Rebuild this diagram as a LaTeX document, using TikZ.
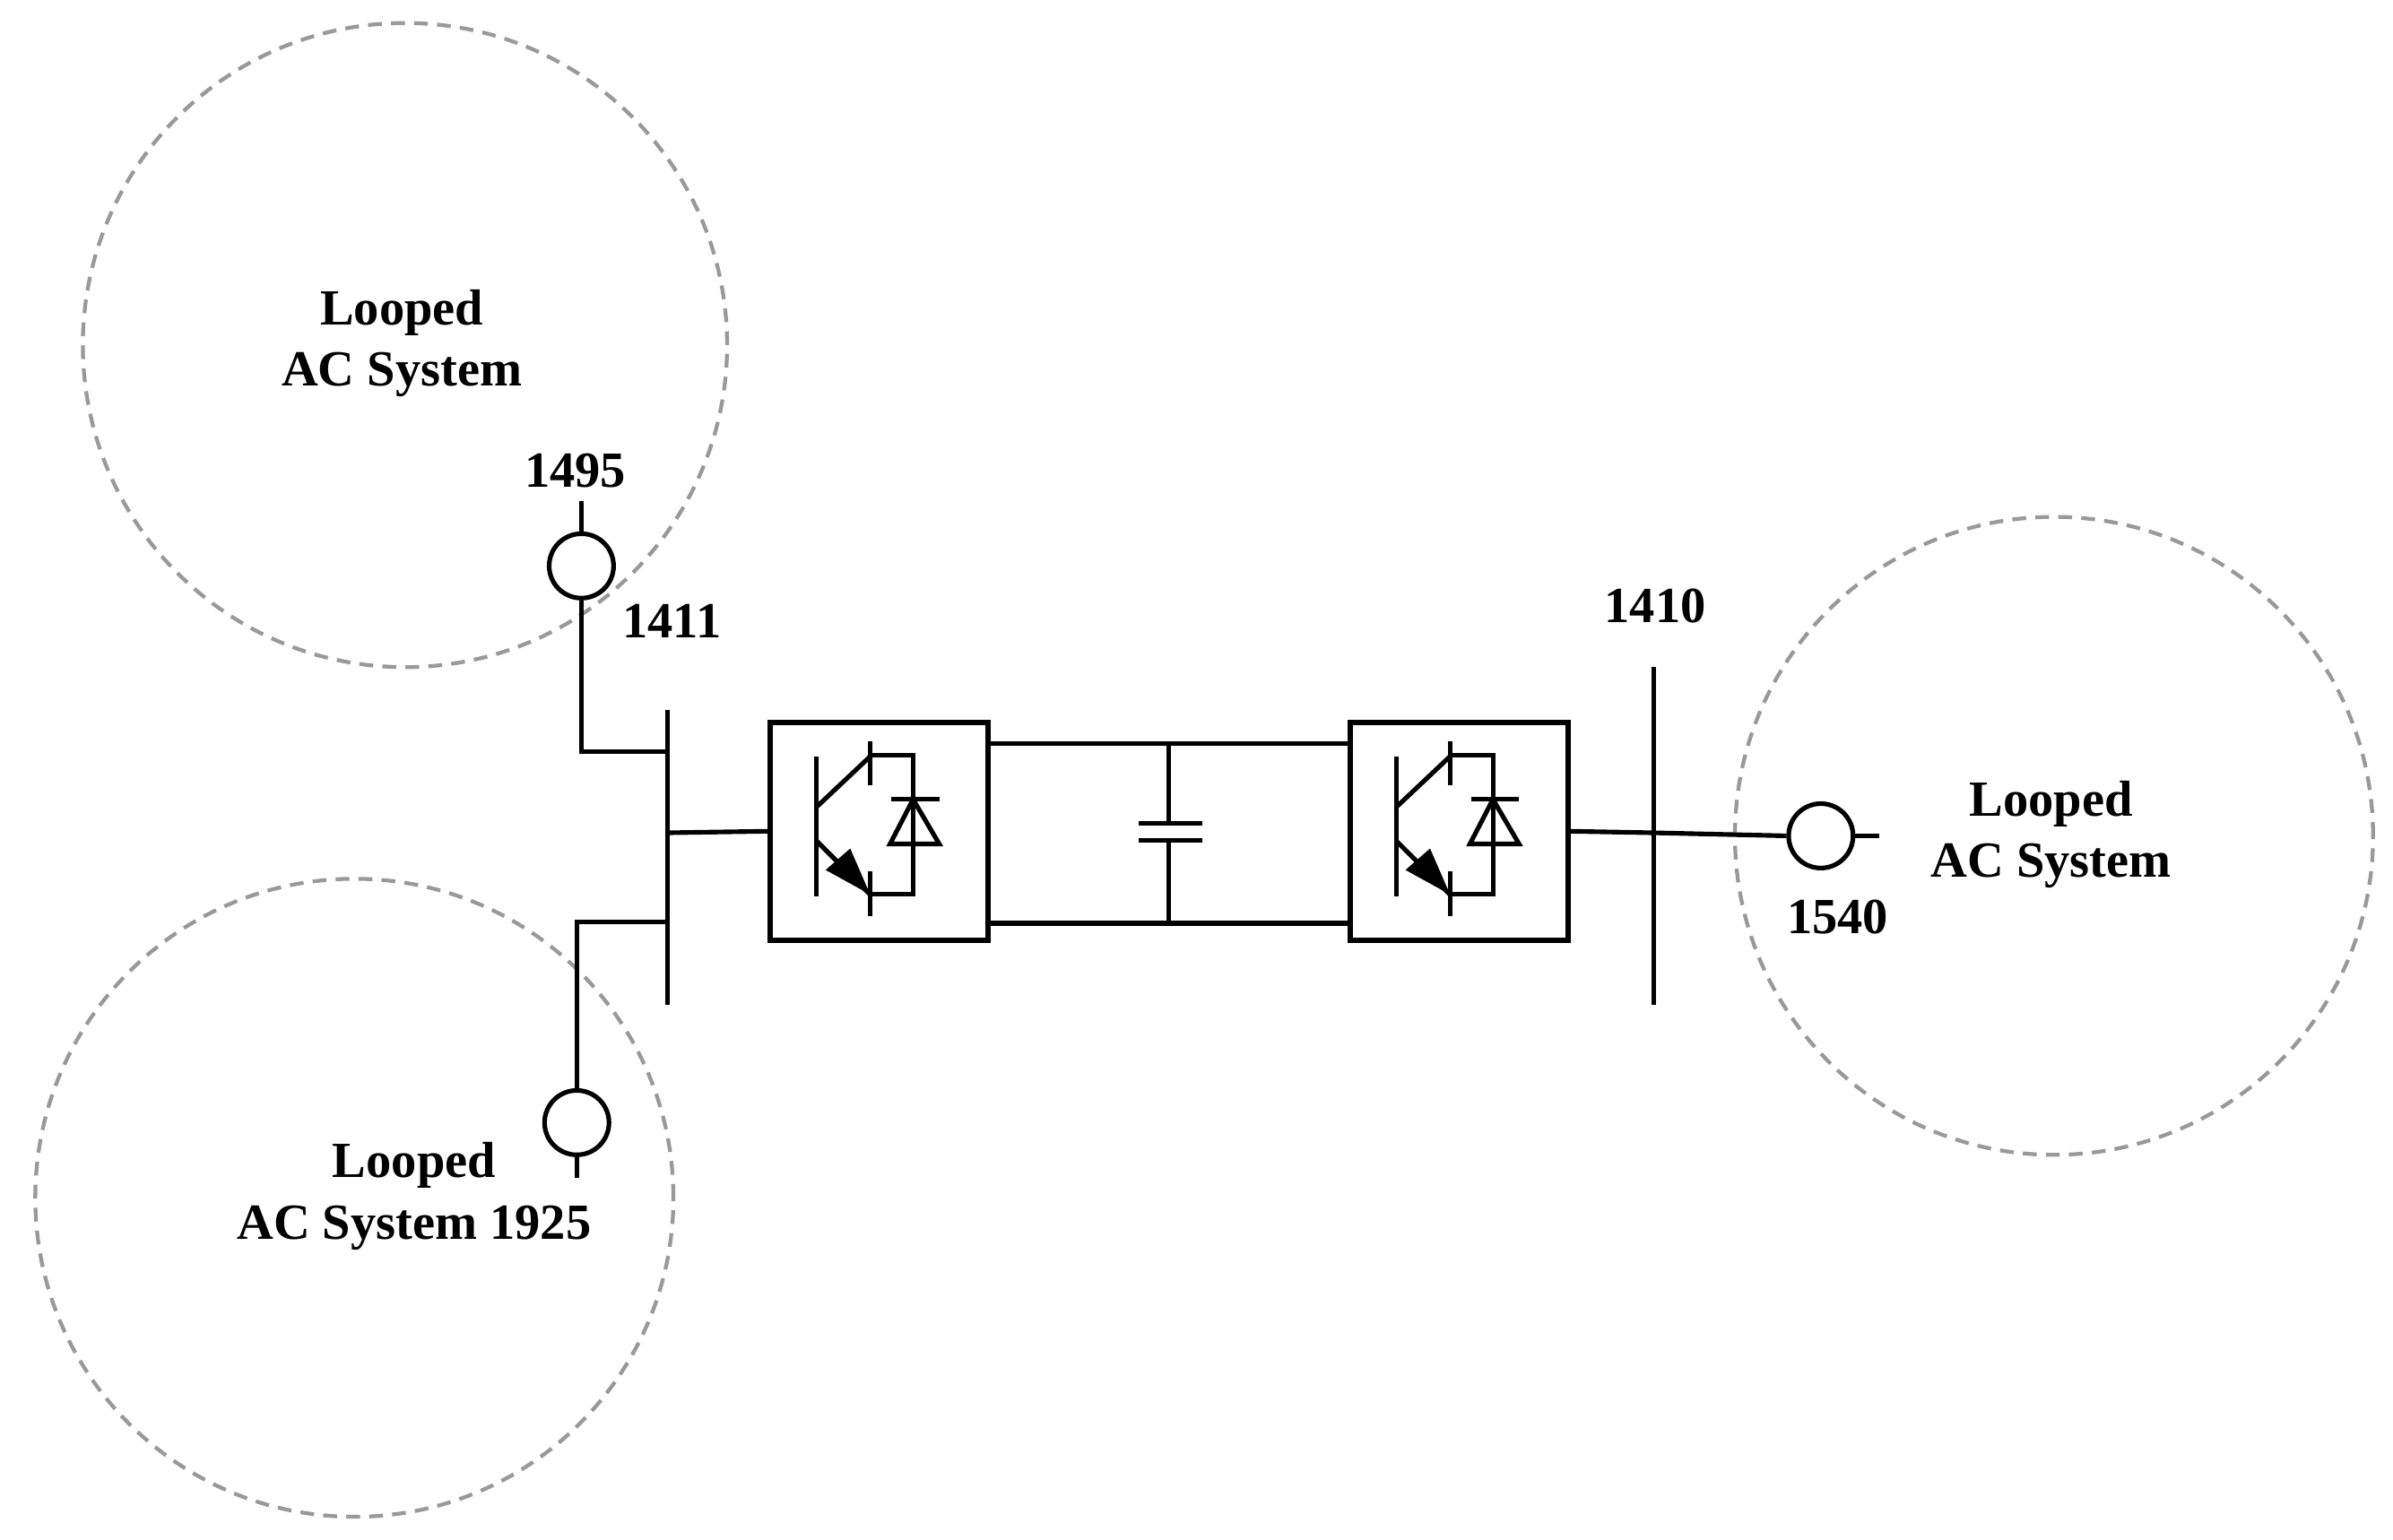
\documentclass[tikz,border=0pt]{standalone}
\usepackage{fontspec}
\setmainfont{Liberation Serif}
\begin{document}
\begin{tikzpicture}[x=1pt,y=-1pt,line width=3pt,
  sys/.style={draw=gray!80,dashed,dash pattern=on 9pt off 6pt,line width=2.5pt,circle},
  lbl/.style={font=\fontsize{33}{40}\selectfont\bfseries,align=center,inner sep=0},
  bus/.style={circle,draw,line width=3pt,minimum size=42pt,inner sep=0},
  conv/.style={draw,line width=3.5pt,minimum size=142pt,inner sep=0}]
\useasboundingbox (0,0) rectangle (1560,1004);
\node[sys,minimum size=420pt] (c1) at (264,225) {};
\node[sys,minimum size=416pt] (c2) at (231,781) {};
\node[sys,minimum size=416pt] (c3) at (1339,545) {};
\node[lbl] (t1) at (262,224) {Looped\\AC System};
\node[lbl] (t2) at (270,780) {Looped\\\hspace*{0pt}AC System 1925};
\node[lbl] (t3) at (1337,544) {Looped\\AC System};
\node[lbl] (n1495) at (375,307) {1495};
\node[lbl] (n1411) at (438,405) {1411};
\node[lbl] (n1410) at (1079,395) {1410};
\node[lbl] (n1540) at (1198,598) {1540};
% buses
\coordinate (b1t) at (435,463); \coordinate (b1b) at (435,655);
\draw (b1t) -- (b1b);
\coordinate (b2t) at (1078,435); \coordinate (b2b) at (1078,655);
\draw (b2t) -- (b2b);
\node[bus] (g1) at (379,369) {};
\node[bus] (g2) at (376,732) {};
\node[bus] (g3) at (1187,545) {};
\coordinate (s1) at (379,327); \coordinate (s2) at (376,768); \coordinate (s3) at (1225,545);
\draw (g1.north) -- (s1);
\draw (g2.south) -- (s2);
\draw (g3.east) -- (s3);
\coordinate (j1) at (435,490); \coordinate (j2) at (435,601);
\draw (g1.south) |- (j1);
\draw (g2.north) |- (j2);
\node[conv] (k1) at (573,542) {};
\node[conv] (k2) at (951,542) {};
\coordinate (j3) at (435,543);
\draw (j3) -- (k1.west);
\coordinate (j4) at (1078,543);
\draw (k2.east) -- (j4) -- (g3.west);
% DC link
\coordinate (d1) at (644,485); \coordinate (d2) at (880,485);
\coordinate (d3) at (644,602); \coordinate (d4) at (880,602);
\draw (d1) -- (d2); \draw (d3) -- (d4);
\coordinate (cp) at (762,485); \coordinate (cn) at (762,602);
\draw (cp) -- (762,537); \draw (742,537) -- (784,537);
\draw (742,548) -- (784,548); \draw (762,548) -- (cn);
% IGBT symbols
\foreach \b in {k1,k2}{
 \begin{scope}[shift={(\b.north west)}]
  \draw (32,24) -- (32,115);
  \draw (67,14) -- (67,43);
  \draw (67,99) -- (67,128);
  \draw (32,57) -- (67,24);
  \draw (32,79) -- (67,114);
  \fill (67,114) -- (38,98) -- (54,84) -- cycle;
  \draw (67,23) -- (95,23) -- (95,114) -- (67,114);
  \draw (81,52) -- (112,52);
  \draw[line join=miter] (95,52) -- (80,81) -- (112,81) -- cycle;
 \end{scope}}
\end{tikzpicture}
\end{document}
